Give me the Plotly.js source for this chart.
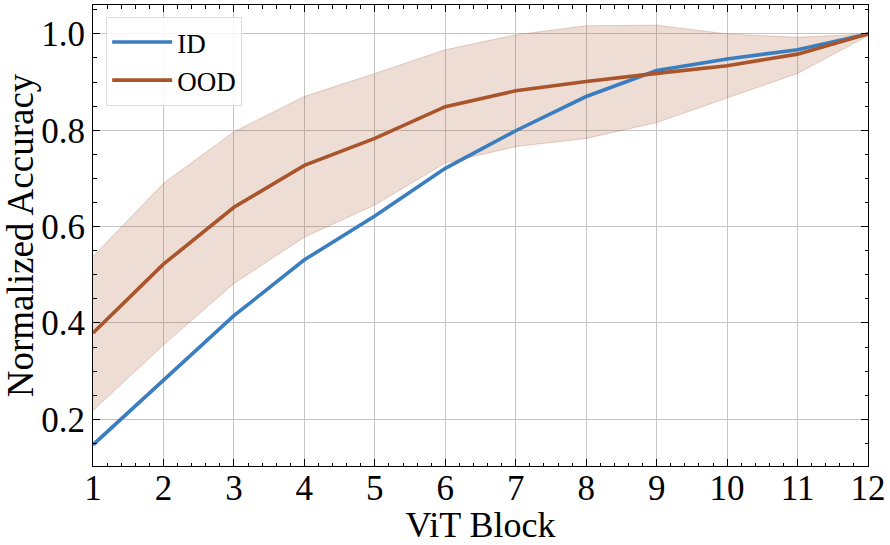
<!DOCTYPE html>
<html>
<head>
<meta charset="utf-8">
<script src="https://cdn.plot.ly/plotly-3.0.1.min.js"></script>
<style>
  html, body { margin: 0; padding: 0; background: #fff; }
  #chart { width: 890px; height: 545px; }
</style>
</head>
<body>
<div id="chart"></div>
<script>
  const blocks = [1, 2, 3, 4, 5, 6, 7, 8, 9, 10, 11, 12];
  const idAcc = [0.147, 0.282, 0.415, 0.531, 0.622, 0.721, 0.799, 0.870, 0.924, 0.948, 0.967, 1.0];
  const oodAcc = [0.379, 0.522, 0.640, 0.727, 0.783, 0.849, 0.882, 0.901, 0.918, 0.934, 0.958, 1.0];
  const oodUpper = [0.538, 0.690, 0.797, 0.870, 0.918, 0.967, 0.998, 1.017, 1.018, 1.000, 0.993, 1.0];
  const oodLower = [0.218, 0.354, 0.482, 0.578, 0.645, 0.732, 0.766, 0.783, 0.816, 0.867, 0.918, 0.996];

  const blue = "#3a7ebf";
  const brown = "#a9542b";
  const serif = "Liberation Serif, Times New Roman, serif";

  const traces = [
    {
      x: blocks, y: oodUpper, type: "scatter", mode: "lines",
      line: { color: "rgba(169,84,43,0.25)", width: 1 },
      showlegend: false, hoverinfo: "skip",
    },
    {
      x: blocks, y: oodLower, type: "scatter", mode: "lines",
      line: { color: "rgba(169,84,43,0.25)", width: 1 },
      fill: "tonexty", fillcolor: "rgba(169,84,43,0.2)",
      showlegend: false, hoverinfo: "skip",
    },
    {
      x: blocks, y: idAcc, type: "scatter", mode: "lines", name: "ID",
      line: { color: blue, width: 3.6 },
    },
    {
      x: blocks, y: oodAcc, type: "scatter", mode: "lines", name: "OOD",
      line: { color: brown, width: 3.6 },
    },
  ];

  const axisCommon = {
    showline: true, linecolor: "#000", linewidth: 1, mirror: "allticks",
    ticks: "inside", ticklen: 7, tickwidth: 1, tickcolor: "#000",
    showgrid: true, gridcolor: "#c4c4c4", gridwidth: 1,
    zeroline: false,
    tickfont: { family: serif, size: 35, color: "#000" },
  };

  const layout = {
    width: 890, height: 545,
    paper_bgcolor: "#fff", plot_bgcolor: "#fff",
    margin: { l: 93, r: 22, t: 5, b: 79 },
    xaxis: {
      ...axisCommon,
      range: [1, 12], dtick: 1, tick0: 1,
      ticklabelstandoff: -9,
      minor: { ticks: "inside", dtick: 0.2, tick0: 1, ticklen: 3.5, tickcolor: "#000", showgrid: false },
      title: { text: "ViT Block", font: { family: serif, size: 36, color: "#000" }, standoff: 8 },
    },
    yaxis: {
      ...axisCommon,
      range: [0.103, 1.06], dtick: 0.2, tick0: 0, tickformat: ".1f",
      minor: { ticks: "inside", dtick: 0.05, tick0: 0, ticklen: 3.5, tickcolor: "#000", showgrid: false },
      title: { text: "Normalized Accuracy", font: { family: serif, size: 37, color: "#000" }, standoff: 4 },
    },
    legend: {
      x: 0.017, y: 0.974, xanchor: "left", yanchor: "top",
      traceorder: "normal",
      bgcolor: "rgba(255,255,255,0.85)", bordercolor: "#dcdcdc", borderwidth: 1,
      font: { family: serif, size: 27, color: "#000" },
      itemwidth: 60, tracegroupgap: 4,
    },
    showlegend: true,
  };

  Plotly.newPlot("chart", traces, layout, { displayModeBar: false, staticPlot: true });
</script>
</body>
</html>
